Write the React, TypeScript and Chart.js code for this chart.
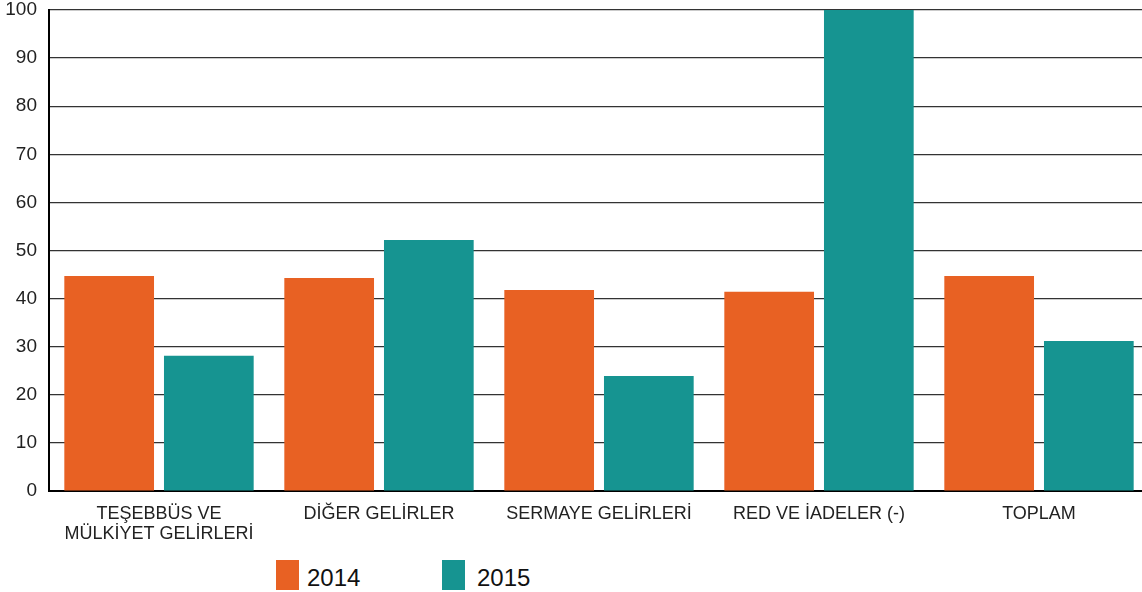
import React, { useEffect, useRef } from "react";
import { Chart, registerables } from "chart.js";

Chart.register(...registerables);

const categories: (string | string[])[] = [
  ["TEŞEBBÜS VE", "MÜLKİYET GELİRLERİ"],
  "DİĞER GELİRLER",
  "SERMAYE GELİRLERİ",
  "RED VE İADELER (-)",
  "TOPLAM",
];
const seriesNames = ["2014", "2015"];
const values2014 = [44.7, 44.3, 41.8, 41.4, 44.7];
const values2015 = [28.1, 52.2, 23.9, 100, 31.2];
const seriesColors = ["#E86123", "#169491"];
const yTicks = [0, 10, 20, 30, 40, 50, 60, 70, 80, 90, 100];

const FONT = "'Liberation Sans', Arial, sans-serif";

export default function App() {
  const ref = useRef<HTMLCanvasElement | null>(null);

  useEffect(() => {
    document.body.style.margin = "0";
    document.body.style.overflow = "hidden";
    if (!ref.current) return;
    const chart = new Chart(ref.current, {
      type: "bar",
      data: {
        labels: categories,
        datasets: [
          { label: seriesNames[0], data: values2014, backgroundColor: seriesColors[0] },
          { label: seriesNames[1], data: values2015, backgroundColor: seriesColors[1] },
        ],
      },
      options: {
        responsive: true,
        maintainAspectRatio: false,
        animation: false,
        layout: { padding: { top: 10, right: 0, left: 0, bottom: 0 } },
        datasets: { bar: { categoryPercentage: 0.906, barPercentage: 0.9 } },
        plugins: { legend: { display: false }, tooltip: { enabled: false } },
        scales: {
          x: {
            grid: { display: false, drawTicks: false },
            border: { display: true, color: "#000", width: 2 },
            ticks: {
              color: "#222",
              font: { family: FONT, size: 18, lineHeight: 1.12 },
              padding: 13,
              maxRotation: 0,
              autoSkip: false,
            },
            afterFit: (s: any) => {
              s.height = 61;
              s.paddingLeft = 0;
              s.paddingRight = 0;
            },
          },
          y: {
            min: 0,
            max: 100,
            afterBuildTicks: (s: any) => {
              s.ticks = yTicks.map((v) => ({ value: v }));
            },
            grid: { color: "#333", lineWidth: 1.2, drawTicks: false },
            border: { display: true, color: "#000", width: 2 },
            ticks: {
              color: "#222",
              font: { family: FONT, size: 19 },
              padding: 12,
            },
            afterFit: (s: any) => {
              s.width = 49;
              s.paddingTop = 0;
              s.paddingBottom = 0;
            },
          },
        },
      },
    });
    return () => chart.destroy();
  }, []);

  const legendBoxLeft = [276, 442];
  const legendTextLeft = [307, 477];
  return (
    <div style={{ position: "relative", width: 1142, height: 592, background: "#fff", overflow: "hidden" }}>
      <div style={{ position: "absolute", left: 0, top: 0, width: 1149, height: 552 }}>
        <canvas ref={ref} />
      </div>
      {seriesNames.map((name, i) => (
        <React.Fragment key={name}>
          <div
            style={{
              position: "absolute",
              left: legendBoxLeft[i],
              top: 560,
              width: 23,
              height: 30,
              background: seriesColors[i],
            }}
          />
          <div
            style={{
              position: "absolute",
              left: legendTextLeft[i],
              top: 563,
              height: 30,
              lineHeight: "30px",
              fontFamily: FONT,
              fontSize: 24,
              color: "#111",
            }}
          >
            {name}
          </div>
        </React.Fragment>
      ))}
    </div>
  );
}
